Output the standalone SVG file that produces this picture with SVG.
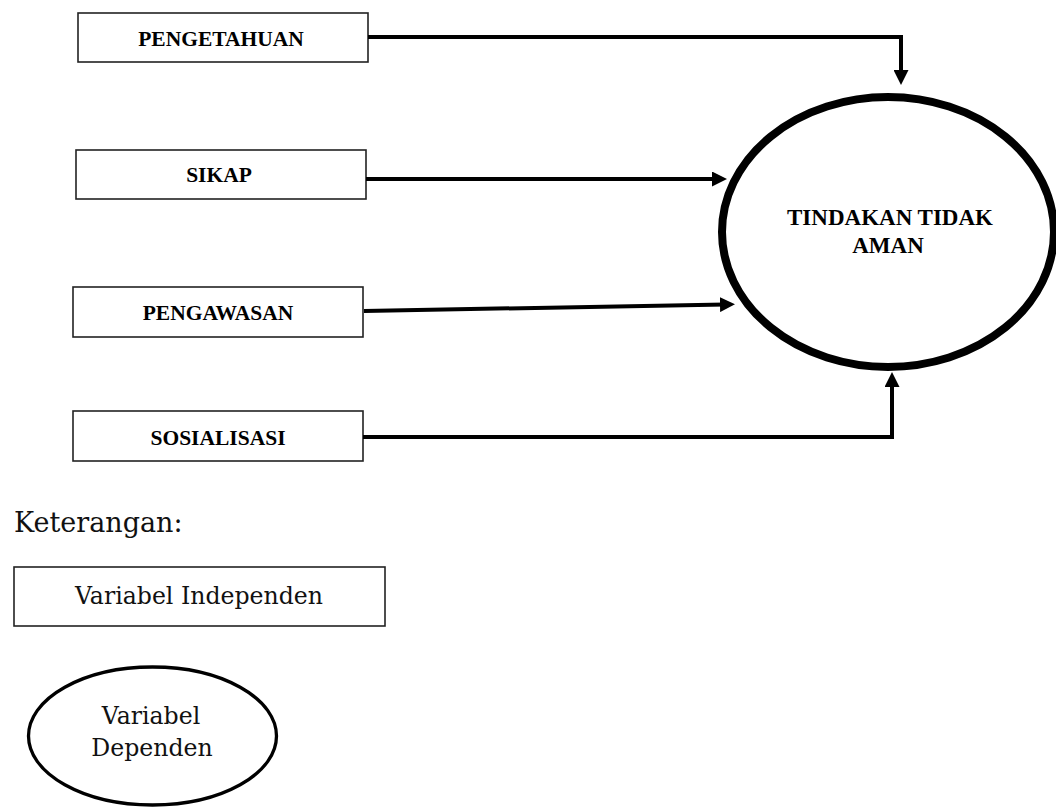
<svg xmlns="http://www.w3.org/2000/svg" width="1056" height="809" viewBox="0 0 1056 809">
<style>
.box{fill:#fff;stroke:#222;stroke-width:1.6}
.bt{font-family:"Liberation Serif",serif;font-weight:bold;font-size:21.5px;fill:#000;text-anchor:middle}
.lt{font-family:"DejaVu Serif",serif;font-size:23.6px;fill:#111;text-anchor:middle}
.con{fill:none;stroke:#000;stroke-width:4;marker-end:url(#ah)}
</style>
<defs>
<marker id="ah" markerUnits="userSpaceOnUse" markerWidth="15" markerHeight="15" refX="5" refY="7.5" orient="auto">
<path d="M0,0 L15,7.5 L0,15 z" fill="#000"/>
</marker>
</defs>
<rect width="1056" height="809" fill="#fff"/>
<g id="pengetahuan"><rect class="box" x="78" y="13" width="290" height="49"/><text class="bt" x="221" y="46">PENGETAHUAN</text></g>
<g id="sikap"><rect class="box" x="76" y="150" width="290" height="49"/><text class="bt" x="219" y="182">SIKAP</text></g>
<g id="pengawasan"><rect class="box" x="73" y="287" width="290" height="50"/><text class="bt" x="218" y="320">PENGAWASAN</text></g>
<g id="sosialisasi"><rect class="box" x="73" y="411" width="290" height="50"/><text class="bt" x="218" y="445">SOSIALISASI</text></g>
<g id="tindakan"><ellipse cx="888" cy="232" rx="166" ry="135" fill="#fff" stroke="#000" stroke-width="8"/><text class="bt" x="890" y="225" style="font-size:23px">TINDAKAN TIDAK</text><text class="bt" x="888" y="253" style="font-size:23px">AMAN</text></g>
<g id="connectors">
<path class="con" d="M368,37 H901 V75"/>
<path class="con" d="M366,179 H717"/>
<path class="con" d="M364,311 L725,304.5"/>
<path class="con" d="M363,437 H892 V382"/>
</g>
<g id="legend">
<text x="14" y="532" font-family="DejaVu Serif, serif" font-size="27" fill="#111">Keterangan:</text>
<g id="legend-independen"><rect class="box" x="14" y="567" width="371" height="59"/><text class="lt" x="199" y="604">Variabel Independen</text></g>
<g id="legend-dependen"><ellipse cx="152.5" cy="736" rx="124" ry="69" fill="#fff" stroke="#000" stroke-width="3.3"/><text class="lt" x="151" y="724">Variabel</text><text class="lt" x="152" y="756">Dependen</text></g>
</g>
</svg>
